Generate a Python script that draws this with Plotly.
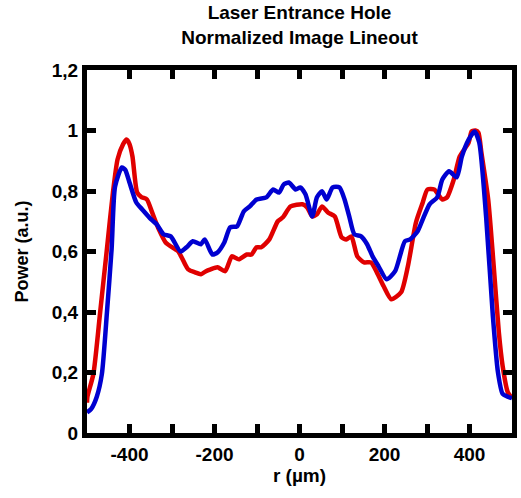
import plotly.graph_objects as go

# ---------------------------------------------------------------------------
# Lineout data
# ---------------------------------------------------------------------------
r_red = [-500, -499, -485, -469, -453, -439, -428, -415, -407, -400, -393, -382,
         -372, -359, -347, -331, -315, -292, -285, -270, -262, -246, -232, -220,
         -209, -193, -175, -159, -143, -124, -113, -101, -90, -71, -51, -39, -21,
         7, 18, 30, 41, 53, 67, 83, 99, 110, 122, 136, 152, 168, 182, 198, 216,
         239, 255, 274, 290, 301, 317, 336, 347, 363, 377, 398, 405, 414, 421,
         428, 444, 457, 469, 478, 490, 500]
p_red = [0.10, 0.12, 0.195, 0.40, 0.61, 0.795, 0.905, 0.955, 0.97, 0.955, 0.914,
         0.795, 0.78, 0.772, 0.73, 0.673, 0.63, 0.607, 0.60, 0.56, 0.541, 0.531,
         0.525, 0.535, 0.541, 0.548, 0.535, 0.584, 0.574, 0.59, 0.59, 0.614,
         0.614, 0.64, 0.70, 0.713, 0.749, 0.756, 0.746, 0.716, 0.723, 0.749,
         0.729, 0.716, 0.647, 0.64, 0.65, 0.584, 0.564, 0.564, 0.531, 0.485,
         0.442, 0.465, 0.551, 0.696, 0.762, 0.805, 0.805, 0.772, 0.779, 0.838,
         0.914, 0.96, 0.997, 1.0, 0.993, 0.927, 0.772, 0.551, 0.333, 0.221,
         0.135, 0.115]

r_blue = [-500, -490, -477, -465, -453, -442, -434, -418, -410, -400, -384, -370,
          -349, -336, -320, -303, -280, -265, -251, -232, -223, -205, -193, -177,
          -163, -147, -131, -117, -101, -78, -62, -48, -37, -25, -9, 2, 14, 30,
          41, 53, 64, 78, 94, 106, 117, 129, 145, 159, 172, 186, 205, 225, 248,
          260, 278, 290, 306, 324, 336, 352, 370, 382, 398, 412, 423, 439, 455,
          467, 478, 490, 500]
p_blue = [0.068, 0.08, 0.12, 0.195, 0.40, 0.61, 0.815, 0.878, 0.87, 0.828, 0.762,
          0.739, 0.706, 0.69, 0.657, 0.65, 0.60, 0.615, 0.634, 0.624, 0.64, 0.59,
          0.597, 0.63, 0.68, 0.683, 0.733, 0.749, 0.772, 0.779, 0.805, 0.795,
          0.822, 0.828, 0.805, 0.812, 0.789, 0.716, 0.779, 0.799, 0.772, 0.812,
          0.812, 0.772, 0.716, 0.657, 0.65, 0.624, 0.584, 0.551, 0.508, 0.535,
          0.634, 0.64, 0.667, 0.706, 0.756, 0.779, 0.838, 0.865, 0.845, 0.914,
          0.97, 0.997, 0.96, 0.716, 0.386, 0.20, 0.129, 0.12, 0.115]

x_ticks = [-400, -300, -200, -100, 0, 100, 200, 300, 400]
x_labels = ["-400", "", "-200", "", "0", "", "200", "", "400"]
y_ticks = [0, 0.2, 0.4, 0.6, 0.8, 1.0, 1.2]

_FONT = "Liberation Sans, Arial, sans-serif"
_RED = "#e00000"
_BLUE = "#0000d0"

fig = go.Figure()
fig.add_trace(go.Scatter(x=r_red, y=p_red, mode="lines",
                         line=dict(color=_RED, width=4.5, shape="spline", smoothing=0.6),
                         showlegend=False))
fig.add_trace(go.Scatter(x=r_blue, y=p_blue, mode="lines",
                         line=dict(color=_BLUE, width=4.5, shape="spline", smoothing=0.6),
                         showlegend=False))

_axis = dict(
    showline=True, linecolor="black", linewidth=5, mirror="ticks",
    ticks="inside", ticklen=9, tickwidth=5, tickcolor="black",
    showgrid=False, zeroline=False,
    tickfont=dict(family=_FONT, size=19, color="black", weight="bold"),
)

fig.update_layout(
    width=521, height=498,
    paper_bgcolor="white", plot_bgcolor="white",
    margin=dict(l=87, r=4, t=70, b=65),
    separators=",.",
    title=dict(
        text="<b>Laser Entrance Hole<br>Normalized Image Lineout</b>",
        x=0.5, xref="paper", xanchor="center",
        y=0.962, yref="container", yanchor="top",
        font=dict(family=_FONT, size=19, color="black"),
    ),
    xaxis=dict(_axis, range=[-500, 500], tickvals=x_ticks, ticktext=x_labels,
               title=dict(text="<b>r (µm)</b>", standoff=6,
                          font=dict(family=_FONT, size=19, color="black"))),
    yaxis=dict(_axis, range=[0, 1.2], tickvals=y_ticks,
               title=dict(text="<b>Power (a.u.)</b>", standoff=20,
                          font=dict(family=_FONT, size=18, color="black"))),
)

fig.write_html("out.html", config={"displayModeBar": False},
               post_script="document.documentElement.style.overflow='hidden';"
                           "document.body.style.margin='0';"
                           "document.body.style.overflow='hidden';")
